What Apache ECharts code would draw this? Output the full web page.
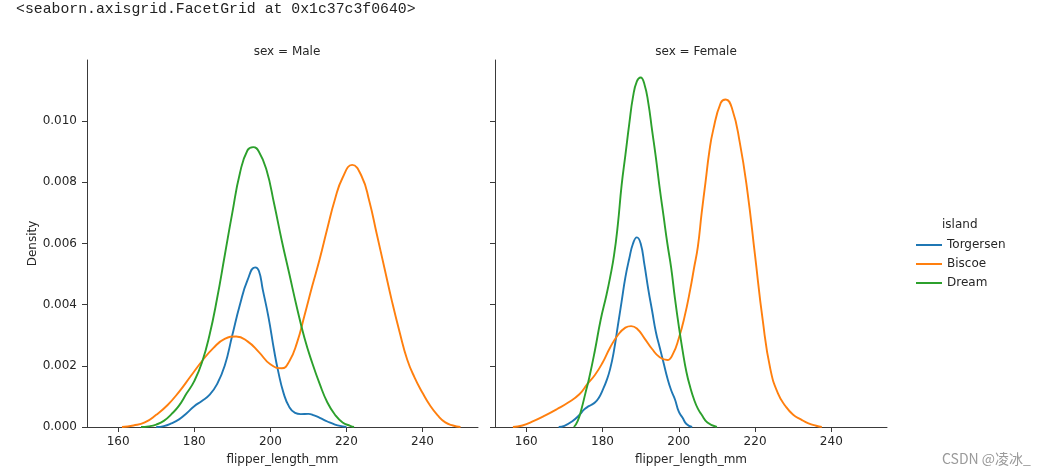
<!DOCTYPE html>
<html>
<head>
<meta charset="utf-8">
<script src="https://cdn.jsdelivr.net/npm/echarts@6/dist/echarts.min.js"></script>
<style>
html,body{margin:0;padding:0;background:#fff;}
#chart{width:1041px;height:476px;}
</style>
</head>
<body>
<div id="chart"></div>
<script>
// ---- data (flipper_length_mm, density) ----
const islands = ['Torgersen', 'Biscoe', 'Dream'];
const facets = ['sex = Male', 'sex = Female'];
const xTicks = [160, 180, 200, 220, 240];
const yTicks = [0, 0.002, 0.004, 0.006, 0.008, 0.010];

const maleTorgersen = [[170,0],[172,0.00003],[174,0.00012],[176,0.00025],[178,0.00045],[180,0.00068],[182,0.00085],[184,0.00105],[186,0.0014],[188,0.002],[190,0.003],[192,0.004],[194,0.0048],[196,0.00522],[197,0.0051],[198,0.0045],[199.5,0.0036],[201,0.0025],[202,0.00186],[203.5,0.0011],[205,0.00065],[206.5,0.00046],[208,0.00042],[210,0.00043],[211.5,0.00038],[213,0.0003],[215,0.00018],[217,0.00008],[219,0.00002],[220,0]];
const maleBiscoe = [[161,0],[164,0.00005],[167,0.00015],[170,0.0004],[173,0.00072],[176,0.00115],[179,0.00165],[182,0.00215],[185,0.00258],[188,0.00288],[191,0.00296],[194,0.0028],[197,0.00245],[200,0.00205],[203,0.00192],[205,0.00215],[207,0.00275],[209,0.00365],[211,0.0046],[213,0.0055],[215,0.0065],[217,0.00745],[219,0.00815],[221.5,0.00857],[224,0.0082],[226,0.0074],[228,0.0063],[230,0.0052],[232,0.0041],[234,0.0031],[236,0.0022],[238,0.0016],[240,0.00112],[242,0.0007],[244,0.00038],[246,0.00015],[248,0.00005],[250,0]];
const maleDream = [[166,0],[168,0.00002],[170,0.00008],[172,0.0002],[174,0.00042],[176,0.0007],[178,0.0011],[180,0.0015],[182,0.0021],[184,0.003],[186,0.0042],[188,0.0056],[190,0.007],[192,0.0083],[194,0.00905],[195.5,0.00915],[197,0.009],[199,0.0084],[201,0.0073],[203,0.0061],[205,0.005],[207,0.0039],[209,0.0029],[211,0.0021],[213,0.0014],[215,0.0008],[217,0.0004],[219,0.00015],[221,0.00004],[222,0]];

const femaleTorgersen = [[168.5,0],[170,0.00004],[172,0.00018],[174,0.0004],[175,0.00055],[176,0.00065],[177,0.00072],[178,0.0008],[179,0.00095],[180,0.0012],[181,0.0015],[182,0.0019],[183,0.0025],[184,0.0033],[185,0.0041],[186,0.0049],[187,0.0055],[188,0.006],[189,0.0062],[190,0.006],[191,0.0053],[192,0.0045],[193,0.0038],[194,0.0031],[195,0.0026],[196,0.0021],[197,0.0016],[198,0.0012],[199,0.0009],[200,0.0005],[201,0.0003],[202,0.0001],[203.5,0]];
const femaleBiscoe = [[156.5,0],[159,0.00005],[162,0.0002],[165,0.00038],[168,0.00058],[171,0.0008],[174,0.00108],[176,0.0014],[178,0.0017],[180,0.0021],[182,0.0026],[184,0.003],[186,0.00325],[187.5,0.0033],[189,0.00322],[191,0.0029],[193,0.00255],[195,0.00228],[197,0.00219],[198.5,0.0024],[200,0.0029],[201.5,0.0036],[203,0.0045],[204,0.0052],[205,0.0059],[206,0.007],[207,0.008],[208,0.009],[209,0.0097],[211,0.0106],[212.3,0.01071],[214,0.0104],[216,0.0093],[218,0.0077],[220,0.0056],[222,0.0035],[224,0.0019],[226,0.0011],[228,0.00068],[230,0.0004],[232,0.00025],[234,0.00012],[236,0.00004],[237.5,0]];
const femaleDream = [[172.5,0],[173.5,0.0002],[174.5,0.0006],[175.5,0.0011],[176.5,0.0016],[178,0.0025],[179.5,0.0035],[181,0.0043],[182,0.0049],[183,0.0056],[184,0.0066],[185,0.0079],[186,0.0089],[187,0.0099],[188,0.0108],[189,0.0113],[190,0.01143],[191,0.0112],[192,0.0106],[193,0.0097],[194,0.0088],[195,0.0078],[196,0.0069],[197,0.006],[198,0.0052],[199,0.0042],[200,0.0033],[201,0.0025],[202,0.0018],[203,0.0013],[204,0.0009],[205,0.0006],[206,0.0004],[207.5,0.00015],[210,0]];

const colors = ['#1f77b4', '#ff7f0e', '#2ca02c'];
const panelData = [
  [maleTorgersen, maleBiscoe, maleDream],
  [femaleTorgersen, femaleBiscoe, femaleDream]
];

const textColor = '#262626';
const axisColor = '#3a3a3a';
const fontFamily = 'DejaVu Sans';

const grids = [
  {left: 87, top: 60, width: 391, height: 367},
  {left: 495, top: 60, width: 392, height: 367}
];

const xAxes = grids.map((g, i) => ({
  type: 'value', gridIndex: i, min: 151.8, max: 254.6,
  splitLine: {show: false},
  axisLine: {show: true, lineStyle: {color: axisColor, width: 1}},
  axisTick: {show: true, length: 5, lineStyle: {color: axisColor}, customValues: xTicks},
  axisLabel: {show: true, color: textColor, fontSize: 12, fontFamily, margin: 9, customValues: xTicks, formatter: v => String(v)},
  name: 'flipper_length_mm', nameLocation: 'middle', nameGap: 27,
  nameTextStyle: {color: textColor, fontSize: 12, fontFamily}
}));

const yAxes = grids.map((g, i) => ({
  type: 'value', gridIndex: i, min: 0, max: 0.012,
  splitLine: {show: false},
  axisLine: {show: true, lineStyle: {color: axisColor, width: 1}},
  axisTick: {show: true, length: 5, lineStyle: {color: axisColor}, customValues: yTicks},
  axisLabel: {show: i === 0, color: textColor, fontSize: 12, fontFamily, margin: 10, customValues: yTicks, formatter: v => v.toFixed(3)},
  name: i === 0 ? 'Density' : '', nameLocation: 'middle', nameGap: 46, nameRotate: 90,
  nameTextStyle: {color: textColor, fontSize: 12, fontFamily}
}));

const series = [];
panelData.forEach((sets, p) => {
  sets.forEach((d, k) => {
    series.push({
      type: 'line', name: islands[k], xAxisIndex: p, yAxisIndex: p,
      data: d, showSymbol: false, symbol: 'none', smooth: 0.5,
      lineStyle: {color: colors[k], width: 1.9}, itemStyle: {color: colors[k]},
      silent: true, animation: false
    });
  });
});

const chart = echarts.init(document.getElementById('chart'));
chart.setOption({
  backgroundColor: '#ffffff',
  animation: false,
  title: [
    {text: facets[0], left: 282, top: 41, textAlign: 'center', textStyle: {color: textColor, fontSize: 12, fontWeight: 'normal', fontFamily}},
    {text: facets[1], left: 691, top: 41, textAlign: 'center', textStyle: {color: textColor, fontSize: 12, fontWeight: 'normal', fontFamily}}
  ],
  grid: grids,
  xAxis: xAxes,
  yAxis: yAxes,
  legend: {
    data: islands, orient: 'vertical', left: 911, top: 234,
    itemWidth: 26, itemHeight: 14, itemGap: 7, icon: 'path://M0,6L26,6L26,8L0,8Z',
    textStyle: {color: textColor, fontSize: 12, fontFamily}, selectedMode: false
  },
  graphic: [
    {type: 'text', left: 16, top: 2, style: {text: '<seaborn.axisgrid.FacetGrid at 0x1c37c3f0640>', fill: '#222', font: '14.8px "Liberation Mono", "DejaVu Sans Mono", monospace'}},
    {type: 'text', left: 942, top: 219, style: {text: 'island', fill: textColor, font: '12px "DejaVu Sans"'}},
    {type: 'text', left: 942, top: 452, style: {text: 'CSDN @凌冰_', fill: '#9a9a9a', font: '14px "Noto Sans CJK SC", "DejaVu Sans", sans-serif'}}
  ],
  series
});
</script>
</body>
</html>
